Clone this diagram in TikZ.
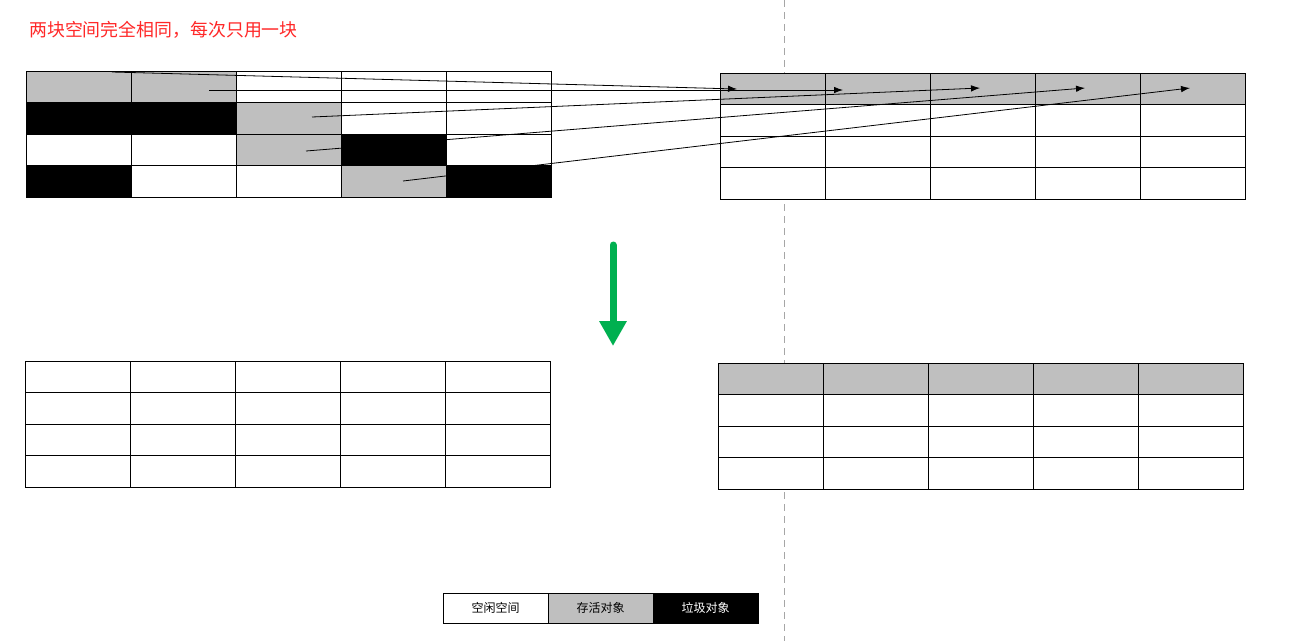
\documentclass[tikz,border=0pt]{standalone}
\usepackage{fontspec}
\newfontfamily\cjk{Noto Sans CJK SC}
\usetikzlibrary{arrows.meta}
\definecolor{livegray}{RGB}{191,191,191}
\definecolor{titlered}{RGB}{255,40,40}
\definecolor{arrowgreen}{RGB}{0,176,80}
\begin{document}
\begin{tikzpicture}[x=1pt,y=-1pt,
  cell/.style={draw=black,line width=0.9pt,minimum width=105pt,minimum height=31.5pt,inner sep=0pt,outer sep=0pt,anchor=north west},
  legendbox/.style={cell,minimum height=30pt,font=\cjk\fontsize{12}{14}\selectfont},
  moveline/.style={draw=black,line width=0.8pt,-{Latex[length=9pt,width=6.5pt]}},
  sep/.style={draw=black!35,line width=0.8pt,dash pattern=on 7pt off 5pt}]
\useasboundingbox (0,0) rectangle (1305,641);
\fill[white] (0,0) rectangle (1305,641);
% separator
\coordinate (septop) at (784,0);
\coordinate (sepbot) at (784,641);
\draw[sep] (septop) -- (sepbot);
% title
\node[anchor=west,inner sep=0pt,text=titlered,font=\cjk\fontsize{17.9}{20}\selectfont] (title) at (29,30) {两块空间完全相同，每次只用一块};
% top-left grid (before)
\foreach \c/\r/\f in {0/0/livegray,1/0/livegray,2/0/white,3/0/white,4/0/white,
                      0/1/black,1/1/black,2/1/livegray,3/1/white,4/1/white,
                      0/2/white,1/2/white,2/2/livegray,3/2/black,4/2/white,
                      0/3/black,1/3/white,2/3/white,3/3/livegray,4/3/black}
  \node[cell,fill=\f] (tl-\r-\c) at ({26+105*\c},{71+31.5*\r}) {};
% top-right grid
\foreach \c in {0,...,4}{
  \node[cell,fill=livegray] (tr-0-\c) at ({720+105*\c},73) {};
  \foreach \r in {1,2,3}
    \node[cell,fill=white] (tr-\r-\c) at ({720+105*\c},{73+31.5*\r}) {};
}
% bottom-left grid (after, empty)
\foreach \c in {0,...,4}
  \foreach \r in {0,...,3}
    \node[cell,fill=white] (bl-\r-\c) at ({25+105*\c},{361+31.5*\r}) {};
% bottom-right grid
\foreach \c in {0,...,4}{
  \node[cell,fill=livegray] (br-0-\c) at ({718+105*\c},363) {};
  \foreach \r in {1,2,3}
    \node[cell,fill=white] (br-\r-\c) at ({718+105*\c},{363+31.5*\r}) {};
}
% copy arrows
\coordinate (s1) at (112,72);
\coordinate (s2) at (209,90);
\coordinate (s3) at (312,117);
\coordinate (s4) at (306,151);
\coordinate (s5) at (403,181);
\coordinate (e1) at (737,89);
\coordinate (e2) at (843,90);
\coordinate (e3) at (980,88);
\coordinate (e4) at (1085,88);
\coordinate (e5) at (1190,88);
\foreach \i in {1,...,5}
  \draw[moveline] (s\i) -- (e\i);
% green arrow
\coordinate (ga) at (613,245);
\coordinate (gb) at (613,346);
\draw[arrowgreen,line width=7pt,line cap=round,-{Triangle[length=25pt,width=26pt]}] (ga) -- (gb);
% legend
\node[legendbox,fill=white] (lg-free) at (443,593) {空闲空间};
\node[legendbox,fill=livegray] (lg-live) at (548,593) {存活对象};
\node[legendbox,fill=black,text=white] (lg-garbage) at (653,593) {垃圾对象};
\end{tikzpicture}
\end{document}
